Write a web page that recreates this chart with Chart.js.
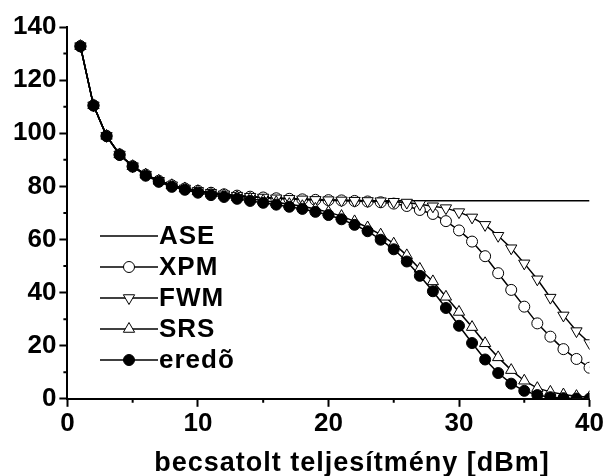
<!DOCTYPE html>
<html>
<head>
<meta charset="utf-8">
<script src="https://cdn.jsdelivr.net/npm/chart.js@4.4.1/dist/chart.umd.min.js"></script>
<style>
  body { margin: 0; background: #fff; }
  #wrap { width: 605px; height: 476px; }
</style>
</head>
<body>
<div id="wrap"><canvas id="myChart" width="605" height="476"></canvas></div>
<script>
// launched power, dBm
const power = [];
for (let p = 1; p <= 40; p++) power.push(p);

const ase = [132.8, 110.5, 99.0, 92.0, 87.6, 84.4, 82.1, 80.4, 79.2, 78.3,
  77.6, 77.0, 76.5, 76.1, 75.8, 75.5, 75.3, 75.1, 75.0, 74.9,
  74.8, 74.7, 74.6, 74.6, 74.6, 74.6, 74.6, 74.6, 74.6, 74.6,
  74.6, 74.6, 74.6, 74.6, 74.6, 74.6, 74.6, 74.6, 74.6, 74.6];
const xpm = [132.8, 110.5, 99.0, 92.0, 87.6, 84.4, 82.1, 80.4, 79.2, 78.3,
  77.6, 77.0, 76.5, 76.1, 75.8, 75.5, 75.3, 75.1, 74.9, 74.8,
  74.7, 74.5, 74.3, 74.0, 73.5, 72.6, 71.1, 69.6, 66.9, 63.4,
  59.2, 53.7, 47.3, 41.0, 34.7, 28.4, 23.4, 18.7, 15.0, 11.7];
const fwm = [132.8, 110.5, 99.0, 92.0, 87.6, 84.4, 82.1, 80.4, 79.2, 78.3,
  77.6, 77.0, 76.5, 76.1, 75.8, 75.5, 75.3, 75.1, 74.9, 74.8,
  74.7, 74.6, 74.5, 74.4, 74.2, 73.9, 73.3, 72.5, 71.8, 70.3,
  68.3, 65.5, 61.4, 56.7, 51.0, 45.0, 38.1, 31.4, 25.5, 21.0];
const srs = [132.8, 110.5, 99.0, 92.0, 87.6, 84.4, 82.1, 80.4, 79.2, 78.2,
  77.3, 76.6, 75.9, 75.3, 74.6, 74.0, 73.3, 72.5, 71.5, 70.3,
  68.8, 66.8, 64.5, 61.8, 58.4, 54.0, 48.9, 44.2, 38.4, 32.7,
  27.0, 20.9, 15.6, 10.8, 6.8, 4.0, 2.6, 1.6, 1.0, 0.6];
const eredo = [132.7, 110.4, 98.9, 91.8, 87.4, 84.0, 81.7, 79.8, 78.7, 77.6,
  76.7, 76.0, 75.3, 74.5, 73.8, 73.1, 72.3, 71.5, 70.4, 69.2,
  67.6, 65.5, 63.1, 59.9, 56.3, 51.7, 46.3, 40.5, 34.2, 27.5,
  21.0, 14.8, 9.7, 5.7, 3.0, 1.4, 0.6, 0.25, 0.1, 0.05];

const xTicks = [0, 10, 20, 30, 40];
const xMinor = [5, 15, 25, 35];
const yTicks = [0, 20, 40, 60, 80, 100, 120, 140];
const yMinor = [10, 30, 50, 70, 90, 110, 130];

const xTitle = 'becsatolt teljesítmény [dBm]';

const tickFont = { family: 'Liberation Sans', size: 26, weight: 'bold' };

function pts(vals) {
  return vals.map((v, i) => ({ x: power[i], y: v }));
}

function series(label, vals, style, extra) {
  return Object.assign({
    label: label,
    data: pts(vals),
    borderColor: '#000',
    borderWidth: 1.5,
    pointStyle: style,
    pointRadius: 5.5,
    pointBorderWidth: 1,
    pointBorderColor: '#000',
    pointBackgroundColor: '#fff',
    tension: 0
  }, extra || {});
}

// minor ticks, in-plot legend and the x title
const extras = {
  id: 'extras',
  afterDraw(chart) {
    const c = chart.ctx;
    const xs = chart.scales.x, ys = chart.scales.y;
    const area = chart.chartArea;
    c.save();
    c.strokeStyle = '#000';
    c.lineWidth = 2;
    c.beginPath();
    xMinor.forEach(v => {
      const px = xs.getPixelForValue(v);
      c.moveTo(px, area.bottom);
      c.lineTo(px, area.bottom + 4);
    });
    yMinor.forEach(v => {
      const py = ys.getPixelForValue(v);
      c.moveTo(area.left - 4, py);
      c.lineTo(area.left, py);
    });
    c.stroke();

    // legend
    const lx0 = 100, lx1 = 158, ly0 = 236, dy = 31;
    chart.data.datasets.forEach((ds, i) => {
      const y = ly0 + i * dy;
      c.strokeStyle = '#000';
      c.lineWidth = 1.5;
      c.beginPath();
      c.moveTo(lx0, y);
      c.lineTo(lx1, y);
      c.stroke();
      if (ds.pointStyle) {
        c.fillStyle = ds.pointBackgroundColor;
        c.strokeStyle = '#000';
        c.lineWidth = 1;
        Chart.helpers.drawPoint(c, {
          pointStyle: ds.pointStyle,
          rotation: ds.pointRotation || 0,
          radius: ds.pointRadius,
          borderWidth: 1
        }, (lx0 + lx1) / 2, y);
      }
      c.fillStyle = '#000';
      c.font = 'bold 26px "Liberation Sans"';
      c.letterSpacing = '1px';
      c.textAlign = 'left';
      c.textBaseline = 'middle';
      c.fillText(ds.label, lx1 + 1, y + 1);
    });

    c.font = 'bold 27px "Liberation Sans"';
    c.letterSpacing = '1px';
    c.textAlign = 'center';
    c.textBaseline = 'alphabetic';
    c.fillText(xTitle, 352, 471);
    c.restore();
  }
};

const ctx = document.getElementById('myChart');
const chart = new Chart(ctx, {
  type: 'line',
  data: {
    datasets: [
      series('ASE', ase, false, { pointRadius: 0, order: 4 }),
      series('XPM', xpm, 'circle', { order: 3 }),
      series('FWM', fwm, 'triangle', { pointRotation: 180, pointRadius: 6.5, order: 2 }),
      series('SRS', srs, 'triangle', { pointRadius: 6.5, order: 1 }),
      series('eredõ', eredo, 'circle', { pointBackgroundColor: '#000', order: 0 })
    ]
  },
  options: {
    responsive: false,
    animation: false,
    layout: { padding: { left: 10, right: 5, top: 27, bottom: 36 } },
    plugins: {
      legend: { display: false },
      tooltip: { enabled: false }
    },
    scales: {
      x: {
        type: 'linear',
        min: 0,
        max: 40,
        afterBuildTicks: s => { s.ticks = xTicks.map(v => ({ value: v })); },
        ticks: { color: '#000', padding: 1, maxRotation: 0, font: tickFont },
        grid: { drawOnChartArea: false, tickLength: 8, tickColor: '#000', tickWidth: 2 },
        border: { color: '#000', width: 2 }
      },
      y: {
        min: 0,
        max: 140,
        afterBuildTicks: s => { s.ticks = yTicks.map(v => ({ value: v })); },
        ticks: { color: '#000', padding: 3, font: tickFont },
        grid: { drawOnChartArea: false, tickLength: 8, tickColor: '#000', tickWidth: 2 },
        border: { color: '#000', width: 2 }
      }
    }
  },
  plugins: [extras]
});
</script>
</body>
</html>
